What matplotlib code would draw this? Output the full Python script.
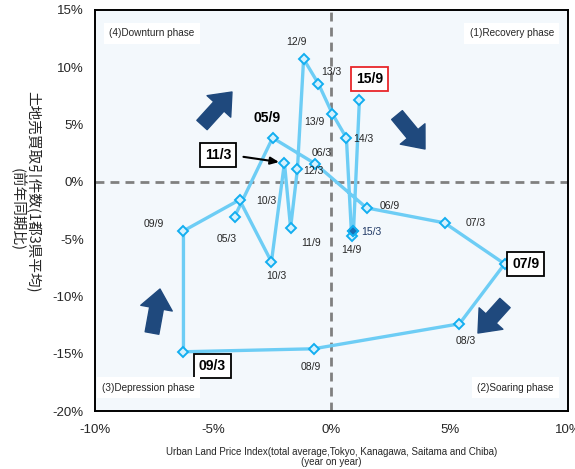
import matplotlib
matplotlib.use("Agg")
import matplotlib.pyplot as plt
from matplotlib.ticker import FuncFormatter

plt.rcParams['font.family'] = ['Liberation Sans', 'Noto Sans CJK JP', 'DejaVu Sans']

# Half-year periods (yy/m) and their year-on-year changes (%)
periods = ["05/3", "05/9", "06/3", "06/9", "07/3", "07/9", "08/3", "08/9",
           "09/3", "09/9", "10/3", "10/9", "11/3", "11/9", "12/3", "12/9",
           "13/3", "13/9", "14/3", "14/9", "15/3", "15/9"]
land_price = [-4.10, -2.49, -0.68, 1.48, 4.78, 7.32, 5.41, -0.76,
              -6.26, -6.26, -3.89, -2.54, -1.99, -1.73, -1.44, -1.18,
              -0.55, 0.04, 0.63, 0.85, 0.93, 1.18]
transactions = [-3.05, 3.84, 1.57, -2.27, -3.58, -7.16, -12.39, -14.57,
                -14.83, -4.28, -1.57, -6.98, 1.66, -4.01, 1.13, 10.73,
                8.55, 5.93, 3.84, -4.71, -4.28, 7.16]
point_labels = ["05/3", "05/9", "06/3", "06/9", "07/3", "07/9", "08/3", "08/9",
                "09/3", "09/9", "10/3", "10/3", "11/3", "11/9", "12/3", "12/9",
                "13/3", "13/9", "14/3", "14/9", "15/3", "15/9"]
x_ticks = [-10, -5, 0, 5, 10]
y_ticks = [15, 10, 5, 0, -5, -10, -15, -20]
phases = ["(4)Downturn phase", "(1)Recovery phase",
          "(3)Depression phase", "(2)Soaring phase"]

# label placement (offset in pixels from the point) and emphasis
label_offsets = {
    "05/3": (-8, -22), "05/9": (-6, 20), "06/3": (6, 11), "06/9": (23, 2),
    "07/3": (31, 0), "07/9": (21, 0), "08/3": (6, -17), "08/9": (-3, -18),
    "09/3": (29, -14), "09/9": (-30, 7), "10/3": (27, -1), "10/9": (5, -14),
    "11/3": (-66, 8), "11/9": (20, -15), "12/3": (16, -2), "12/9": (-7, 17),
    "13/3": (13, 12), "13/9": (-18, -8), "14/3": (17, -1), "14/9": (0, -14),
    "15/3": (18, -1), "15/9": (10, 21),
}
boxed = {"07/9": "black", "09/3": "black", "11/3": "black", "15/9": "#e8262a"}
bold_plain = {"05/9"}

DPI = 100
PX = 72.0 / DPI  # pixels -> points

fig = plt.figure(figsize=(5.75, 4.69), dpi=DPI)
ax = fig.add_axes([95 / 575, 58 / 469, 473 / 575, 401 / 469])
ax.set_facecolor("#f3f8fc")
ax.set_xlim(-10, 10)
ax.set_ylim(-20, 15)

for side in ax.spines.values():
    side.set_linewidth(1.4)
    side.set_color("black")

ax.axvline(0, color="#808080", lw=2, ls=(0, (3.2, 2.2)), zorder=1)
ax.axhline(0, color="#808080", lw=2, ls=(0, (3.2, 2.2)), zorder=1)

ax.plot(land_price, transactions, color="#6dcdf5", lw=2.4, zorder=2)
ax.plot(land_price, transactions, ls="none", marker="D", ms=5.5,
        mfc="#d6f1fd", mec="#12aef0", mew=1.4, zorder=3)
i153 = periods.index("15/3")
ax.plot(land_price[i153], transactions[i153], ls="none", marker="D", ms=5.5,
        mfc="#1a6fb5", mec="#12aef0", mew=1.4, zorder=4)

for per, lab, xv, yv in zip(periods, point_labels, land_price, transactions):
    dx, dy = label_offsets[per]
    kw = dict(xy=(xv, yv), xytext=(dx * PX, dy * PX), textcoords="offset points",
              ha="center", va="center", zorder=6)
    if per in boxed:
        ax.annotate(lab, fontsize=10, fontweight="bold", color="black",
                    bbox=dict(boxstyle="square,pad=0.35", fc="white",
                              ec=boxed[per], lw=1.3), **kw)
    elif per in bold_plain:
        ax.annotate(lab, fontsize=10, fontweight="bold", color="black", **kw)
    else:
        col = "#1f3864" if per == "15/3" else "#262626"
        ax.annotate(lab, fontsize=7.5, color=col, **kw)

# pointer to the 11/3 point
i113 = periods.index("11/3")
ax.annotate("", xy=(land_price[i113], transactions[i113]),
            xytext=(-41 * PX, 6 * PX), textcoords="offset points",
            arrowprops=dict(arrowstyle="-|>,head_length=0.5,head_width=0.22",
                            color="black", lw=1.5, shrinkA=0, shrinkB=4),
            zorder=7)

# phase labels in the four corners
corner_pos = [(0.03, 0.955, "left", "top"), (0.97, 0.955, "right", "top"),
              (0.015, 0.045, "left", "bottom"), (0.97, 0.045, "right", "bottom")]
for txt, (fx, fy, ha, va) in zip(phases, corner_pos):
    ax.text(fx, fy, txt, transform=ax.transAxes, ha=ha, va=va, fontsize=7.2,
            color="#262626", zorder=8,
            bbox=dict(boxstyle="square,pad=0.55", fc="white", ec="none"))

# cycle direction arrows
big_arrows = [((0.2262, 0.7132), (0.2896, 0.7955)),
              ((0.6385, 0.7380), (0.6977, 0.6534)),
              ((0.8668, 0.2693), (0.8097, 0.1945)),
              ((0.1205, 0.1945), (0.1374, 0.3042))]
for tail, tip in big_arrows:
    ax.annotate("", xy=tip, xytext=tail, xycoords="axes fraction",
                textcoords="axes fraction",
                arrowprops=dict(arrowstyle="simple,head_length=1.4,head_width=2.3,tail_width=1.0",
                                mutation_scale=10, fc="#1f497d", ec="#1f497d",
                                shrinkA=0, shrinkB=0),
                zorder=5)

ax.set_xticks(x_ticks)
ax.set_yticks(y_ticks)
pct = FuncFormatter(lambda v, _: f"{v:.0f}%")
ax.xaxis.set_major_formatter(pct)
ax.yaxis.set_major_formatter(pct)
ax.tick_params(length=0, labelsize=9.5, colors="#262626")
ax.tick_params(axis="x", pad=9)
ax.tick_params(axis="y", pad=8)

ax.set_xlabel("Urban Land Price Index(total average,Tokyo, Kanagawa, Saitama and Chiba)\n(year on year)",
              fontsize=7, color="#262626", labelpad=8, linespacing=1.0)
fig.text(33 / 575, 1 - 192 / 469, "土地売買取引件数(1都3県平均)", rotation=270,
         ha="center", va="center", fontsize=10.5, color="#262626",
         family=["Noto Sans CJK JP", "DejaVu Sans"])
fig.text(17 / 575, 1 - 210 / 469, "(前年同期比)", rotation=270,
         ha="center", va="center", fontsize=10.5, color="#262626",
         family=["Noto Sans CJK JP", "DejaVu Sans"])

fig.savefig("out.png", dpi=DPI)
